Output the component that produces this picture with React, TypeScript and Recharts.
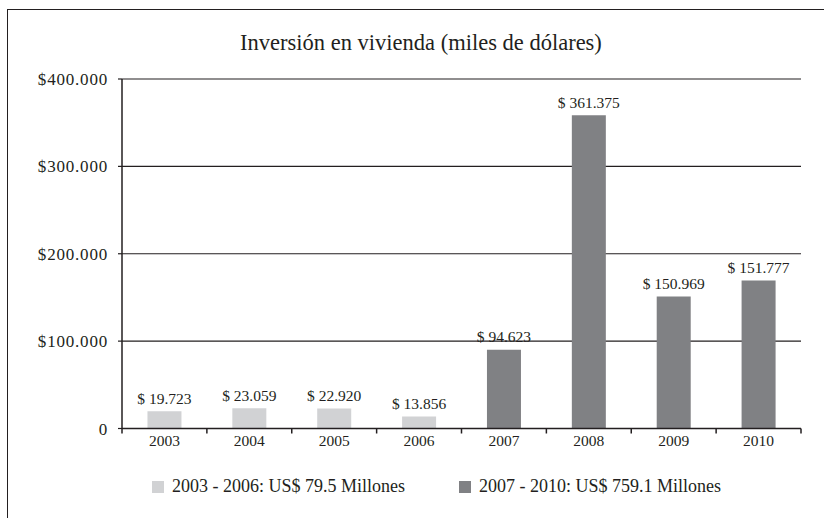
import { Bar, BarChart, CartesianGrid, LabelList, Legend, XAxis, YAxis } from "recharts";

const YEARS = ["2003", "2004", "2005", "2006", "2007", "2008", "2009", "2010"];
// bar heights as drawn in the picture (some bars differ a little from their printed labels)
const EARLY_VALUES = [19723, 23059, 22920, 13856, 0, 0, 0, 0];
const LATE_VALUES = [0, 0, 0, 0, 90000, 358500, 150969, 169500];
const BAR_LABELS = [
  "$ 19.723",
  "$ 23.059",
  "$ 22.920",
  "$ 13.856",
  "$ 94.623",
  "$ 361.375",
  "$ 150.969",
  "$ 151.777",
];
const SERIES_NAMES = ["2003 - 2006: US$ 79.5 Millones", "2007 - 2010: US$ 759.1 Millones"];
const Y_TICKS = [0, 100000, 200000, 300000, 400000];

const FONT = "Liberation Serif, DejaVu Serif, serif";
const INK = "#231f20";
const LIGHT = "#d1d2d4";
const DARK = "#808184";

const data = YEARS.map((year, i) => ({
  year,
  early: EARLY_VALUES[i],
  late: LATE_VALUES[i],
}));

function formatMoney(v: number) {
  if (v === 0) return "0";
  return "$" + v.toLocaleString("de-DE");
}

function YearTick(props: any) {
  const { x, y, payload, index, width } = props;
  const band = (width ?? 679) / YEARS.length;
  const left = x - band / 2;
  return (
    <g>
      <line x1={left} x2={left} y1={y} y2={y + 5} stroke={INK} strokeWidth={1.5} />
      {index === YEARS.length - 1 && (
        <line x1={x + band / 2} x2={x + band / 2} y1={y} y2={y + 5} stroke={INK} strokeWidth={1.5} />
      )}
      <text x={x} y={y + 17} textAnchor="middle" fill={INK} fontSize={15.5} fontFamily={FONT}>
        {payload.value}
      </text>
    </g>
  );
}

function makeBarLabel(values: number[]) {
  return (props: any) => {
    const { x, y, width, value } = props;
    if (!value) return null;
    const i = values.indexOf(Number(value));
    return (
      <text
        x={Number(x) + Number(width) / 2}
        y={Number(y) - 7.5}
        textAnchor="middle"
        fill={INK}
        fontSize={15.5}
        fontFamily={FONT}
      >
        {BAR_LABELS[i]}
      </text>
    );
  };
}

function LegendContent({ payload }: any) {
  return (
    <div style={{ display: "flex", alignItems: "center", fontFamily: FONT, fontSize: 18, color: INK }}>
      {(payload ?? []).map((entry: any, i: number) => (
        <div key={entry.value} style={{ display: "flex", alignItems: "center", marginRight: i === 0 ? 54 : 0 }}>
          <span style={{ width: 12, height: 12, background: entry.color, marginRight: 8, display: "inline-block" }} />
          <span style={{ whiteSpace: "nowrap" }}>{entry.value}</span>
        </div>
      ))}
    </div>
  );
}

export default function App() {
  return (
    <div style={{ position: "absolute", left: 0, top: 0, width: 824, height: 518, background: "#fff", overflow: "hidden" }}>
      <div
        style={{
          position: "absolute",
          left: 7,
          top: 9,
          width: 830,
          height: 520,
          borderTop: `1.5px solid ${INK}`,
          borderLeft: `1.5px solid ${INK}`,
        }}
      />
      <div
        style={{
          position: "absolute",
          left: 0,
          top: 30,
          width: 842,
          textAlign: "center",
          fontFamily: FONT,
          fontSize: 22.5,
          color: INK,
        }}
      >
        Inversión en vivienda (miles de dólares)
      </div>
      <div style={{ position: "absolute", left: 0, top: 0 }}>
        <BarChart
          width={824}
          height={518}
          data={data}
          margin={{ top: 79, right: 23, bottom: 38.5, left: 0 }}
          barCategoryGap="30%"
        >
          <CartesianGrid vertical={false} stroke={INK} strokeWidth={1.2} strokeOpacity={1} />
          <XAxis
            dataKey="year"
            height={30}
            tickSize={0}
            tickMargin={0}
            tickLine={false}
            axisLine={{ stroke: INK, strokeWidth: 1.5 }}
            tick={<YearTick />}
            interval={0}
          />
          <YAxis
            width={122}
            domain={[0, 400000]}
            ticks={Y_TICKS}
            tickFormatter={formatMoney}
            tickSize={4}
            tickMargin={10}
            axisLine={{ stroke: INK, strokeWidth: 1.5 }}
            tickLine={{ stroke: INK, strokeWidth: 1.2 }}
            tick={{ fill: INK, fontSize: 17, fontFamily: FONT, letterSpacing: 0.8 }}
          />
          <Legend
            verticalAlign="bottom"
            content={<LegendContent />}
            wrapperStyle={{ left: 152, top: 476, bottom: "auto", width: "auto" }}
          />
          <Bar dataKey="early" name={SERIES_NAMES[0]} stackId="a" fill={LIGHT} isAnimationActive={false} legendType="square">
            <LabelList dataKey="early" content={makeBarLabel(EARLY_VALUES)} />
          </Bar>
          <Bar dataKey="late" name={SERIES_NAMES[1]} stackId="a" fill={DARK} isAnimationActive={false} legendType="square">
            <LabelList dataKey="late" content={makeBarLabel(LATE_VALUES)} />
          </Bar>
        </BarChart>
      </div>
    </div>
  );
}
